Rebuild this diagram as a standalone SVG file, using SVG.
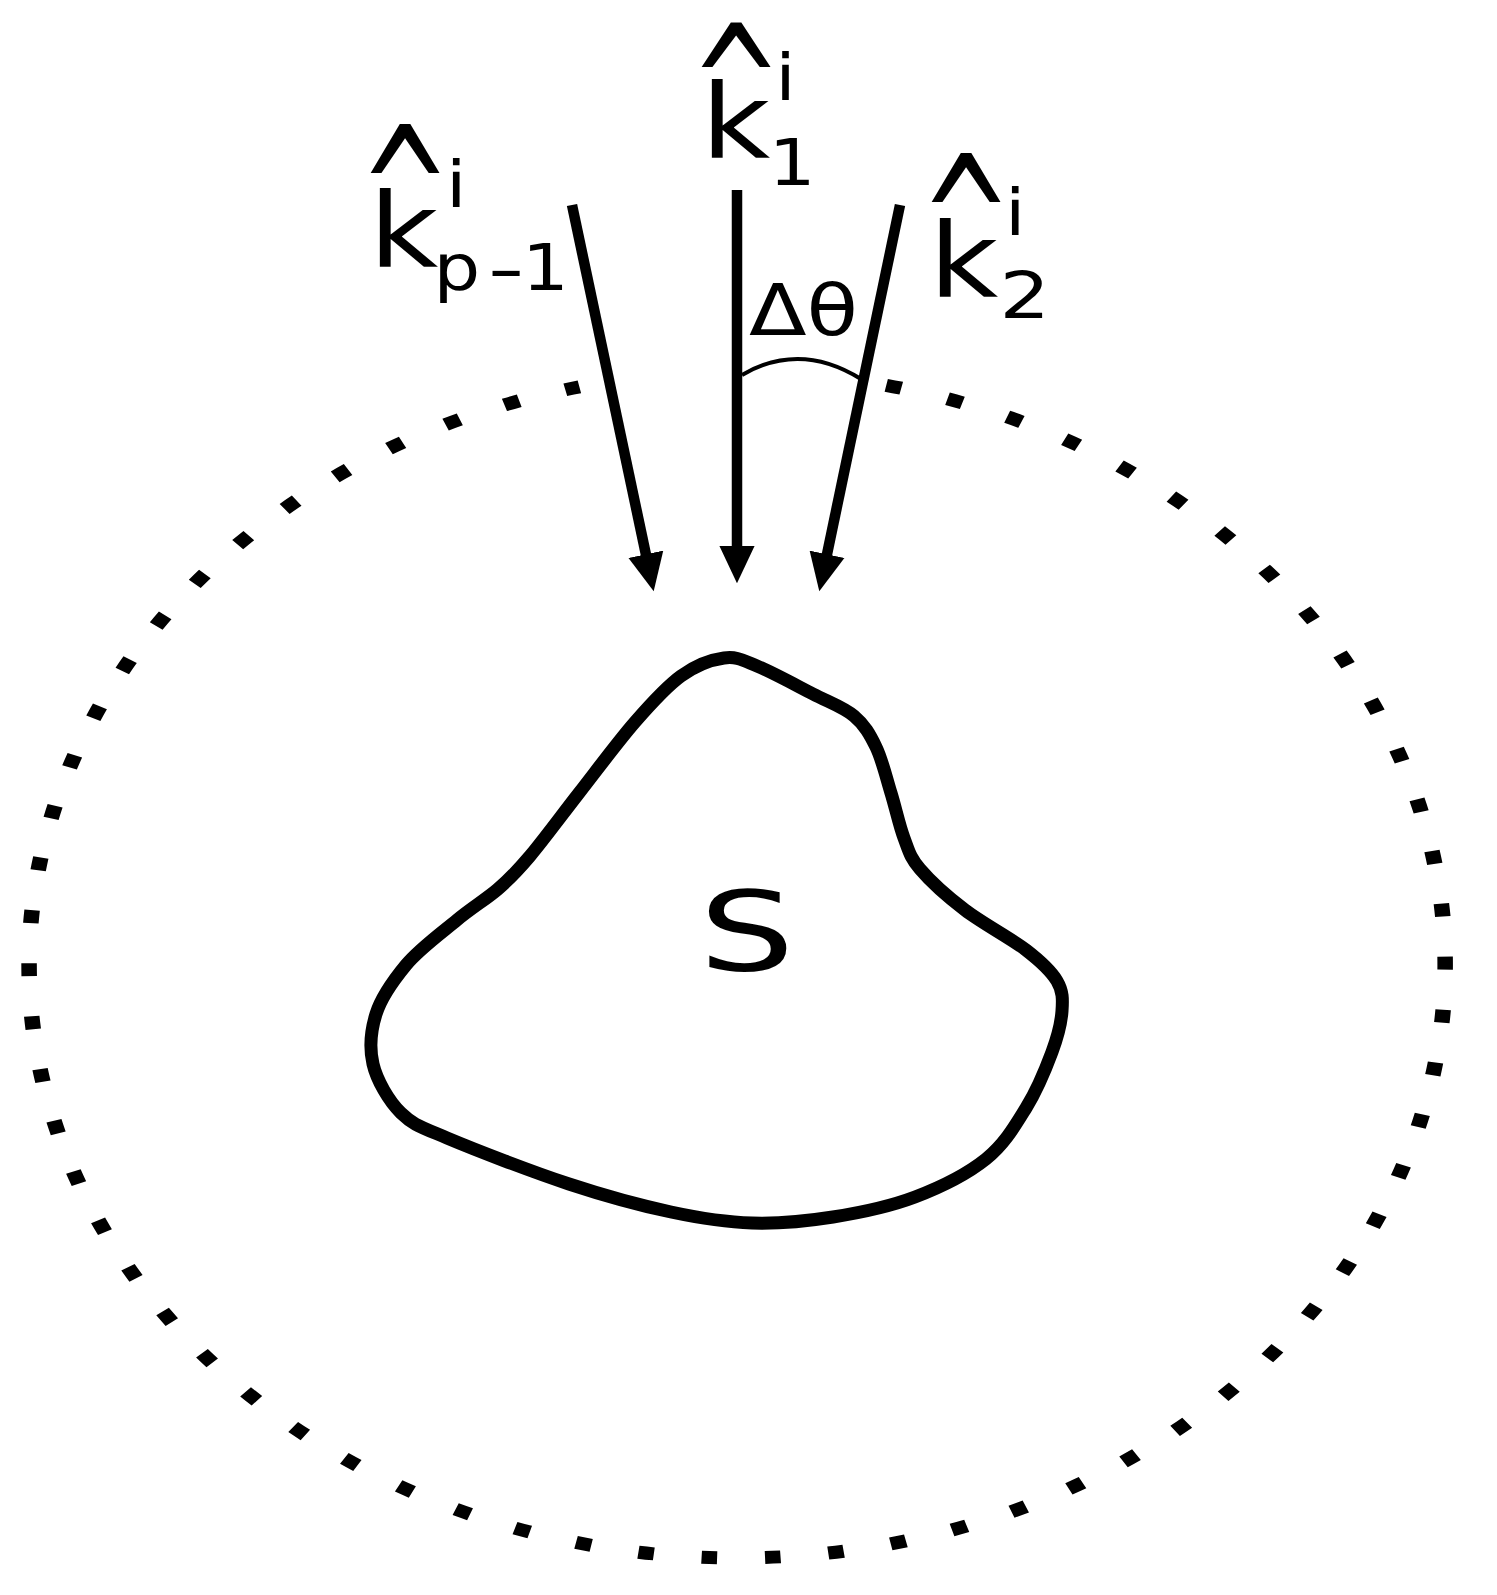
<svg xmlns="http://www.w3.org/2000/svg" width="1497" height="1595" viewBox="0 0 1497 1595">
<defs>
<style>
text{font-family:"DejaVu Sans","Verdana",sans-serif;fill:#000}
.big{font-size:104px}
.small{font-size:64px}
.caret{font-size:100px;text-anchor:middle}
.ray{stroke:#000;stroke-width:10.5;fill:none;marker-end:url(#head)}
</style>
<marker id="head" markerUnits="userSpaceOnUse" markerWidth="40" markerHeight="36" refX="4" refY="16" orient="auto" viewBox="0 0 36 32">
<path d="M0,0 L34,16 L0,32 Z" fill="#000"/>
</marker>
</defs>
<rect width="1497" height="1595" fill="#fff"/>
<g id="boundary" transform="translate(737,965) scale(1.194,1)">
<path d="M125,-579.7 A593,593 0 1 1 -132,-578.1" fill="none" stroke="#000" stroke-width="13" stroke-dasharray="13 40.14"/>
</g>
<g id="scatterer">
<path d="M724,658 C736.7,656.3 742.2,660 757,666 C771.8,672 796.8,685.7 813,694 C829.2,702.3 843.5,707.2 854,716 C864.5,724.8 869.8,734.2 876,747 C882.2,759.8 886.3,777.8 891,793 C895.7,808.2 899.2,825.3 904,838 C908.8,850.7 909.8,857 920,869 C930.2,881 947.3,896.5 965,910 C982.7,923.5 1010.7,938.2 1026,950 C1041.3,961.8 1051,970.8 1057,981 C1063,991.2 1062.8,999.2 1062,1011 C1061.2,1022.8 1058,1035.8 1052,1052 C1046,1068.2 1037,1090.2 1026,1108 C1015,1125.8 1004.5,1144.2 986,1159 C967.5,1173.8 940.5,1187.3 915,1197 C889.5,1206.7 860.2,1212.7 833,1217 C805.8,1221.3 779,1223.8 752,1223 C725,1222.2 701.5,1218.5 671,1212 C640.5,1205.5 606.3,1196.3 569,1184 C531.7,1171.7 475,1149.8 447,1138 C419,1126.2 413.2,1124.8 401,1113 C388.8,1101.2 376.8,1080.2 373,1064 C369.2,1047.8 370.7,1031 376,1014 C381.3,997 392.8,981 406,965 C419.2,949 441.7,932.7 457,920 C472.3,907.3 486.2,899.2 498,889 C509.8,878.8 516.5,872 530,856 C543.5,840 561.2,815.8 579,793 C596.8,770.2 618,741.5 635,722 C652,702.5 666.2,686.7 681,676 C695.8,665.3 711.3,659.7 724,658 Z" fill="none" stroke="#000" stroke-width="13" stroke-linejoin="round"/>
<text x="0" y="0" transform="translate(699,970) scale(1.37,1)" style="font-size:110px">S</text>
</g>
<g id="connectors">
<line class="ray" x1="572" y1="205" x2="646.8" y2="558.6"/>
<line class="ray" x1="737" y1="190" x2="737" y2="550"/>
<line class="ray" x1="900" y1="205" x2="826.1" y2="558.6"/>
<path d="M742,375 Q800,341 861,379" fill="none" stroke="#000" stroke-width="4"/>
</g>
<g id="label-kp1">
<text class="caret" transform="translate(405,173) scale(1.1,1.8)" x="0" y="45.5">^</text>
<g transform="translate(369,267) scale(1.15,1)">
<text class="big" x="0" y="0">k</text>
<text class="small" x="67" y="-60">i</text>
<text class="small" x="56" y="23">p</text>
<text class="small" transform="translate(103,24) scale(1.4,1)" x="0" y="0">-</text>
<text class="small" x="133" y="23">1</text>
</g>
</g>
<g id="label-k1">
<text class="caret" transform="translate(736,67) scale(1.1,1.64)" x="0" y="45.5">^</text>
<g transform="translate(701,158) scale(1.15,1)">
<text class="big" x="0" y="0">k</text>
<text class="small" x="64.6" y="-58">i</text>
<text class="small" x="59" y="27">1</text>
</g>
</g>
<g id="label-k2">
<text class="caret" transform="translate(966,202) scale(1.1,1.8)" x="0" y="45.5">^</text>
<g transform="translate(929,297) scale(1.15,1)">
<text class="big" x="0" y="0">k</text>
<text class="small" x="66" y="-62">i</text>
<text class="small" transform="translate(61.4,21) scale(1.08,1)" x="0" y="0">2</text>
</g>
</g>
<g id="label-dtheta">
<text transform="translate(749,335) scale(1.17,1)" x="0" y="0" style="font-size:72px">Δθ</text>
</g>
</svg>
